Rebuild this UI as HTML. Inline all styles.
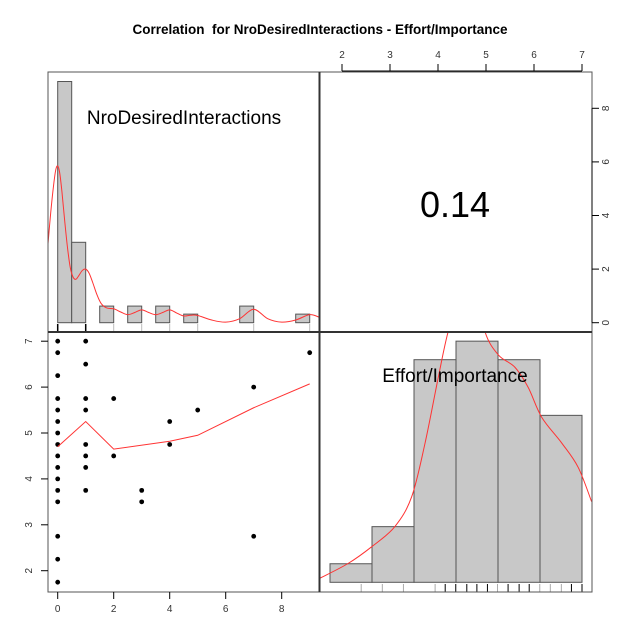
<!DOCTYPE html>
<html><head><meta charset="utf-8"><style>
html,body{margin:0;padding:0;background:#fff}
svg{display:block;font-family:"Liberation Sans",Arial,sans-serif}
</style></head><body>
<svg id="chart" width="640" height="640" viewBox="0 0 640 640">
<text x="320" y="34" text-anchor="middle" font-size="13.5" font-weight="bold">Correlation &#160;for NroDesiredInteractions - Effort/Importance</text>
<defs>
<clipPath id="cTL"><rect x="48" y="72" width="271" height="260"/></clipPath>
<clipPath id="cBR"><rect x="319" y="332" width="273" height="260"/></clipPath>
</defs>
<g id="g"></g>
</svg>
<script>
// scatter data
const scatterX = [0,0,0,0,0,0,0,0,0,0,0,0,0,0,0,0,1,1,1,1,1,1,1,1,2,2,3,3,4,4,5,7,7,9];
const scatterY = [7,6.75,6.25,5.75,5.5,5.25,5,4.75,4.5,4.25,4,3.75,3.5,2.75,2.25,1.75,7,6.5,5.75,5.5,4.75,4.5,4.25,3.75,5.75,4.5,3.75,3.5,5.25,4.75,5.5,6,2.75,6.75];
const smoothX = [0,1,2,4,5,7,9];
const smoothY = [4.7,5.25,4.65,4.82,4.95,5.55,6.07];
// histogram 1 (NroDesiredInteractions)
const hist1Left = [0,0.5,1.5,2.5,3.5,4.5,6.5,8.5];
const hist1Right = [0.5,1,2,3,4,5,7,9];
const hist1Height = [9,3,0.62,0.62,0.62,0.32,0.62,0.32];
const dens1X = [-0.35,-0.25,-0.15,-0.07,0,0.07,0.15,0.25,0.35,0.45,0.55,0.65,0.75,0.88,1,1.12,1.25,1.4,1.55,1.75,2,2.25,2.5,2.75,3,3.25,3.5,3.75,4,4.25,4.5,4.75,5,5.5,6,6.5,7,7.5,8,8.5,9,9.35];
const dens1Y = [2.9,4.1,5.1,5.7,5.85,5.6,4.9,3.8,2.8,2.05,1.7,1.62,1.75,1.95,2.0,1.85,1.5,1.05,0.72,0.55,0.52,0.4,0.3,0.38,0.48,0.38,0.3,0.38,0.48,0.36,0.25,0.28,0.27,0.1,0.02,0.15,0.5,0.15,0.02,0.1,0.3,0.2];
const rug1 = [0,1,2,3,4,5,7,9];
const rug1Dark = [0,1];
// histogram 2 (Effort/Importance)
const hist2Breaks = [1.75,2.625,3.5,4.375,5.25,6.125,7];
const hist2Counts = [1,3,12,13,12,9];
const dens2X = [1.54,2.13,2.62,3.10,3.45,3.73,4.01,4.21,4.5,4.8,4.98,5.26,5.60,5.88,6.16,6.58,6.92,7.20];
const dens2Y = [0.22,1.02,1.92,3.0,4.6,7.5,11.1,13.5,16,16,13.5,12.25,11.6,10.5,8.9,7.5,6.2,4.35];
const rug2 = [2.4,2.84,3.28,3.94,4.15,4.37,4.6,4.81,5.03,5.24,5.46,5.69,5.9,6.12,6.34,6.57,6.78,7.0];
const rug2Gray = [2.4,2.84,3.28,3.94,5.24,6.12,6.34,6.57];
const xTicks1 = [0,2,4,6,8];
const yTicks1 = [2,3,4,5,6,7];
const xTicks2 = [2,3,4,5,6,7];
const yTicks2 = [0,2,4,6,8];
const corrValue = "0.14";

const NS="http://www.w3.org/2000/svg";
const g=document.getElementById('g');
function mk(t,a,p){const e=document.createElementNS(NS,t);for(const k in a)e.setAttribute(k,a[k]);(p||g).appendChild(e);return e;}
function smoothPath(pts){
  let d='M'+pts[0][0]+','+pts[0][1];
  for(let i=0;i<pts.length-1;i++){
    const p0=pts[Math.max(0,i-1)],p1=pts[i],p2=pts[i+1],p3=pts[Math.min(pts.length-1,i+2)];
    const c1=[p1[0]+(p2[0]-p0[0])/6,p1[1]+(p2[1]-p0[1])/6];
    const c2=[p2[0]-(p3[0]-p1[0])/6,p2[1]-(p3[1]-p1[1])/6];
    d+=` C${c1[0]},${c1[1]} ${c2[0]},${c2[1]} ${p2[0]},${p2[1]}`;
  }
  return d;
}
const sx1=v=>57.7+v*28;
const sy1=v=>570.7-(v-2)*45.9;
const hy1=v=>322.7-v*26.8;
const sx2=v=>342+(v-2)*48;
const hy2=v=>582.3-v*18.55;

for(let i=0;i<hist1Height.length;i++){
  const r=mk('rect',{x:sx1(hist1Left[i]),y:hy1(hist1Height[i]),width:sx1(hist1Right[i])-sx1(hist1Left[i]),height:hy1(0)-hy1(hist1Height[i]),fill:'#c8c8c8',stroke:'#555','stroke-width':1});
  
  
}
for(const v of rug1){
  const dark=rug1Dark.includes(v);
  const l=mk('line',{x1:sx1(v),x2:sx1(v),y1:324,y2:331,stroke:dark?'#000':'#bbb','stroke-width':dark?1.5:1});
  
  
}
const d1=mk('path',{d:smoothPath(dens1X.map((x,i)=>[sx1(x),hy1(dens1Y[i])])),fill:'none',stroke:'#ff3333','stroke-width':1,'clip-path':'url(#cTL)'});



for(let i=0;i<hist2Counts.length;i++){
  const r=mk('rect',{x:sx2(hist2Breaks[i]),y:hy2(hist2Counts[i]),width:sx2(hist2Breaks[i+1])-sx2(hist2Breaks[i]),height:hy2(0)-hy2(hist2Counts[i]),fill:'#c8c8c8',stroke:'#555','stroke-width':1});
  
  
}
for(const v of rug2){
  const gray=rug2Gray.includes(v);
  const l=mk('line',{x1:sx2(v),x2:sx2(v),y1:584,y2:592,stroke:gray?'#aaa':'#000','stroke-width':1});
  
  
}
const d2=mk('path',{d:smoothPath(dens2X.map((x,i)=>[sx2(x),hy2(dens2Y[i])])),fill:'none',stroke:'#ff3333','stroke-width':1,'clip-path':'url(#cBR)'});



for(let i=0;i<scatterX.length;i++){
  const c=mk('circle',{cx:sx1(scatterX[i]),cy:sy1(scatterY[i]),r:2.4,fill:'#000'});
  
  
}
const sm=mk('polyline',{points:smoothX.map((x,i)=>sx1(x)+','+sy1(smoothY[i])).join(' '),fill:'none',stroke:'#ff3333','stroke-width':1});



const fr=mk('rect',{x:48,y:72,width:544,height:520,fill:'none',stroke:'#555','stroke-width':1});


const vl=mk('line',{x1:319.5,x2:319.5,y1:72,y2:592,stroke:'#333','stroke-width':2});


const hl=mk('line',{x1:48,x2:592,y1:332,y2:332,stroke:'#333','stroke-width':2});



function axisLine(x1,y1,x2,y2,name){const l=mk('line',{x1,y1,x2,y2,stroke:'#000','stroke-width':1});}
for(const t of xTicks1){
  axisLine(sx1(t),592,sx1(t),599,'x-tick');
  const tx=mk('text',{x:sx1(t),y:612,'text-anchor':'middle','font-size':10,fill:'#333'});tx.textContent=t;
  
  
}
for(const t of yTicks1){
  axisLine(41,sy1(t),48,sy1(t),'y-tick');
  const tx=mk('text',{x:32,y:sy1(t),'text-anchor':'middle','font-size':10,fill:'#333',transform:`rotate(-90 32 ${sy1(t)})`});tx.textContent=t;
  
  
}
axisLine(sx2(2),71,sx2(7),71,'x-axis-top');
for(const t of xTicks2){
  axisLine(sx2(t),64,sx2(t),71,'top-tick');
  const tx=mk('text',{x:sx2(t),y:58,'text-anchor':'middle','font-size':10,fill:'#333'});tx.textContent=t;
  
  
}
axisLine(592,hy1(0),592,hy1(8),'y-axis-right');
for(const t of yTicks2){
  axisLine(592,hy1(t),599,hy1(t),'right-tick');
  const tx=mk('text',{x:609,y:hy1(t),'text-anchor':'middle','font-size':10,fill:'#333',transform:`rotate(-90 609 ${hy1(t)})`});tx.textContent=t;
  
  
}

const l1=mk('text',{x:184,y:124,'text-anchor':'middle','font-size':19});l1.textContent='NroDesiredInteractions';


const l2=mk('text',{x:455,y:382,'text-anchor':'middle','font-size':19});l2.textContent='Effort/Importance';


const cv=mk('text',{x:455,y:217,'text-anchor':'middle','font-size':36});cv.textContent=corrValue;


</script>
</body></html>
